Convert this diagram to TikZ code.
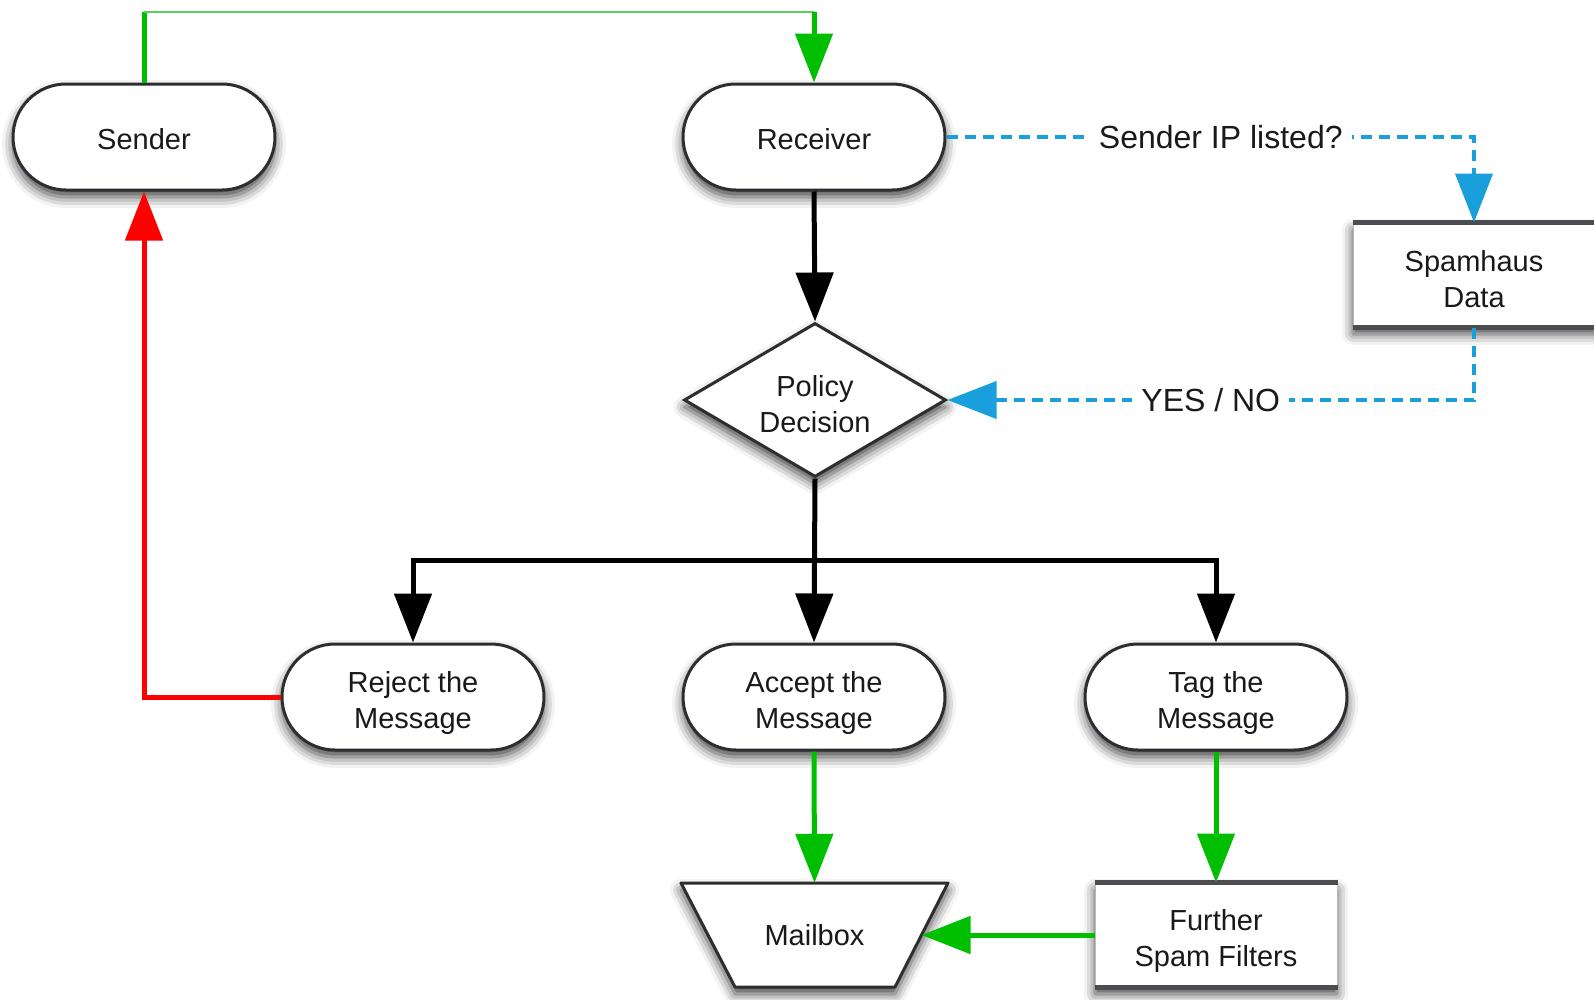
\documentclass[tikz,border=0pt]{standalone}
\usepackage{fontspec}
\setmainfont{Liberation Sans}
\usetikzlibrary{arrows.meta,shapes.geometric,shapes.misc,shadows.blur}

\definecolor{flowgreen}{RGB}{0,190,0}
\definecolor{toplinegreen}{RGB}{90,205,90}
\definecolor{flowred}{RGB}{255,0,0}
\definecolor{flowblue}{RGB}{25,160,220}
\definecolor{textdark}{RGB}{25,25,25}
\definecolor{borderdark}{RGB}{45,45,50}

\tikzset{
  x=1pt, y=-1pt,
  softshadow/.style={blur shadow={shadow xshift=0pt, shadow yshift=-7pt,
      shadow blur radius=11pt, shadow opacity=75}},
  boxfont/.style={font=\fontsize{29}{36}\selectfont, text=textdark, align=center},
  twoline/.style={text height=69pt},
  terminal/.style={rounded rectangle, draw=borderdark, line width=3pt, fill=white,
      minimum width=262pt, minimum height=106pt, inner sep=0pt, softshadow, boxfont,
      text height=25pt},
  datastore/.style={rectangle, draw=gray!55, line width=1pt, fill=white,
      minimum width=242pt, minimum height=104pt, inner sep=0pt, softshadow, boxfont},
  decision/.style={diamond, draw=borderdark, line width=3pt, fill=white, aspect=1.7,
      minimum width=262pt, minimum height=154pt, inner sep=0pt, softshadow, boxfont},
  storagebox/.style={rectangle, minimum width=267pt, minimum height=104pt,
      inner sep=0pt, boxfont},
  storageline/.style={draw=borderdark, line width=3pt, fill=white, line join=round,
      softshadow},
  bar/.style={draw=borderdark!85, line width=4.5pt},
  tip/.style={-{Triangle[width=37pt,length=49pt]}},
  blackflow/.style={draw=black, line width=5pt},
  greenflow/.style={draw=flowgreen, line width=5pt},
  redflow/.style={draw=flowred, line width=5pt},
  blueflow/.style={draw=flowblue, line width=4pt, dash pattern=on 11pt off 7pt},
  flowlabel/.style={fill=white, inner sep=9pt, text=textdark,
      font=\fontsize{32}{38}\selectfont},
}

\begin{document}
\begin{tikzpicture}
\useasboundingbox (0,0) rectangle (1594,999);

% mailbox outline: an inverted trapezium, wide at the top
\coordinate (mbtl) at (681,883);
\coordinate (mbtr) at (948,883);
\coordinate (mbbr) at (895,987);
\coordinate (mbbl) at (735,987);
\path[storageline] (mbtl) -- (mbtr) -- (mbbr) -- (mbbl) -- cycle;

% shapes
\node[terminal]  (sender)   at (144,137) {Sender};
\node[terminal]  (receiver) at (814,137) {Receiver};
\node[datastore, text height=65pt] (spamhaus) at (1474,275) {Spamhaus\\Data};
\node[decision, text height=66pt]  (policy)   at (815,400) {Policy\\Decision};
\node[terminal, twoline]  (reject)   at (413,697) {Reject the\\Message};
\node[terminal, twoline]  (accept)   at (814,697) {Accept the\\Message};
\node[terminal, twoline]  (tag)      at (1216,697) {Tag the\\Message};
\node[storagebox] (mailbox) at (814.5,935) {Mailbox};
\node[datastore, text height=68pt] (further)  at (1216,935) {Further\\Spam Filters};

% heavy top and bottom rules of the data boxes
\foreach \n in {spamhaus,further}{
  \draw[bar] (\n.north west) -- (\n.north east);
  \draw[bar] (\n.south west) -- (\n.south east);
}

% point on the slanted right side of the mailbox
\coordinate (mailboxside) at ($(mbtr)!0.5!(mbbr)$);

% sender to receiver
\coordinate (topleft)  at (sender.north |- 0,12);
\coordinate (topright) at (receiver.north |- 0,12);
\draw[greenflow] (sender.north) -- (topleft);
\draw[draw=toplinegreen, line width=2pt] (topleft) -- (topright);
\draw[greenflow, tip] (topright) -- (receiver.north);

% receiver to decision
\draw[blackflow, tip] (receiver.south) -- (policy.north);

% blocklist lookup
\draw[blueflow, tip] (receiver.east) -| node[flowlabel, pos=0.26] {Sender IP listed?} (spamhaus.north);
\draw[blueflow, tip] (spamhaus.south) |- node[flowlabel, pos=0.75] {YES / NO} (policy.east);

% three outcomes
\coordinate (branch) at (policy.south |- 0,560);
\draw[blackflow, tip] (policy.south) -- (accept.north);
\draw[blackflow, tip] (branch) -| (reject.north);
\draw[blackflow, tip] (branch) -| (tag.north);

% rejection goes back to the sender
\draw[redflow, tip] (reject.west) -| (sender.south);

% delivery
\draw[greenflow, tip] (accept.south) -- (mailbox.north);
\draw[greenflow, tip] (tag.south) -- (further.north);
\draw[greenflow, tip] (further.west) -- (mailboxside);
\end{tikzpicture}
\end{document}
